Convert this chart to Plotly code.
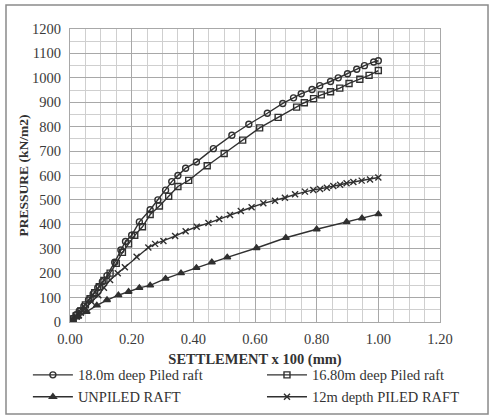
import plotly.graph_objects as go

# 18.0m deep Piled raft
x_18 = [0, 0.01, 0.02, 0.03, 0.045, 0.06, 0.075, 0.09, 0.105, 0.12, 0.145, 0.165, 0.18, 0.20, 0.225, 0.26,
        0.285, 0.31, 0.33, 0.35, 0.375, 0.41, 0.465, 0.525, 0.58, 0.64, 0.69, 0.725, 0.75, 0.785, 0.81,
        0.845, 0.87, 0.9, 0.93, 0.955, 0.985, 1.0]
p_18 = [0, 15, 30, 45, 65, 90, 115, 140, 165, 190, 245, 295, 330, 355, 410, 460,
        500, 540, 575, 600, 630, 655, 710, 765, 810, 855, 895, 918, 935, 952, 968,
        985, 1000, 1017, 1035, 1050, 1065, 1070]

# 16.80m deep Piled raft
x_168 = [0, 0.01, 0.02, 0.035, 0.05, 0.065, 0.08, 0.095, 0.11, 0.13, 0.15, 0.17, 0.19, 0.21, 0.235, 0.26,
         0.29, 0.32, 0.35, 0.385, 0.445, 0.5, 0.56, 0.615, 0.675, 0.735, 0.76, 0.79, 0.815, 0.845, 0.875,
         0.905, 0.94, 0.97, 1.0]
p_168 = [0, 12, 25, 45, 70, 95, 120, 145, 170, 200, 240, 285, 320, 355, 390, 440,
         475, 515, 555, 580, 640, 690, 745, 795, 838, 880, 898, 915, 930, 943, 958,
         977, 994, 1010, 1030]

# UNPILED RAFT
x_un = [0, 0.01, 0.027, 0.054, 0.087, 0.12, 0.157, 0.19, 0.225, 0.26, 0.31, 0.36, 0.41, 0.46, 0.51,
        0.605, 0.70, 0.80, 0.897, 0.947, 1.0]
p_un = [0, 8, 22, 42, 68, 90, 110, 124, 140, 150, 178, 200, 222, 245, 265,
        303, 345, 380, 410, 425, 442]

# 12m depth PILED RAFT
x_12 = [0, 0.01, 0.022, 0.035, 0.049, 0.07, 0.092, 0.11, 0.13, 0.155, 0.178, 0.216, 0.254, 0.276, 0.303,
        0.341, 0.375, 0.411, 0.449, 0.484, 0.519, 0.554, 0.589, 0.627, 0.665, 0.697, 0.73, 0.762, 0.789,
        0.811, 0.833, 0.854, 0.876, 0.897, 0.919, 0.946, 0.973, 1.0]
p_12 = [0, 10, 22, 38, 56, 83, 110, 140, 172, 200, 224, 267, 305, 320, 332,
        352, 372, 390, 405, 422, 438, 455, 470, 486, 497, 509, 523, 534, 541,
        545, 550, 557, 562, 568, 573, 579, 584, 592]

names = ["18.0m deep Piled raft", "16.80m deep Piled raft", "UNPILED RAFT", "12m depth PILED RAFT"]
xs = [x_18, x_168, x_un, x_12]
ps = [p_18, p_168, p_un, p_12]
symbols = ["circle-open", "square-open", "triangle-up", "x-thin-open"]
legend_ids = ["legend", "legend2", "legend", "legend2"]

fig = go.Figure()
LC = "#303030"
for n, xv, pv, s, lg in zip(names, xs, ps, symbols, legend_ids):
    fig.add_trace(go.Scatter(
        x=xv, y=pv, name=n, mode="lines+markers", legend=lg,
        line=dict(color=LC, width=1.4),
        marker=dict(symbol=s, size=6, color=LC, line=dict(color=LC, width=1.4)),
    ))

font_family = "Liberation Serif"
leg_common = dict(orientation="v", xanchor="left", yanchor="bottom", itemwidth=40,
                  font=dict(family=font_family, size=14.5, color="#333333"),
                  bgcolor="rgba(0,0,0,0)", tracegroupgap=0, borderwidth=0)
# paper area: x 10..481 (471 px), y 29..416 (387 px)
fig.update_layout(
    width=491, height=416,
    margin=dict(l=10, r=10, t=29, b=0),
    paper_bgcolor="white", plot_bgcolor="white",
    font=dict(family=font_family, color="#333333", size=14),
    showlegend=True,
    legend=dict(x=0.038, y=0.008, **leg_common),
    legend2=dict(x=0.535, y=0.008, **leg_common),
    xaxis=dict(domain=[60 / 471, 430 / 471], range=[0, 1.2], dtick=0.2, tick0=0, tickformat=".2f",
               showgrid=True, gridcolor="#a8a8a8", gridwidth=1,
               minor=dict(dtick=0.05, showgrid=True, gridcolor="#cfcfcf", gridwidth=1),
               showline=True, linecolor="#a8a8a8", mirror=True, zeroline=False,
               ticks="", ticklabelstandoff=4, tickfont=dict(size=14.5, color="#3a3a3a"),
               automargin=False,
               title=dict(text="<b>SETTLEMENT x 100 (mm)</b>", font=dict(size=14.5, color="#333333"), standoff=7)),
    yaxis=dict(domain=[94 / 387, 1], range=[0, 1200], dtick=100, tick0=0,
               showgrid=True, gridcolor="#a8a8a8", gridwidth=1,
               minor=dict(dtick=50, showgrid=True, gridcolor="#cfcfcf", gridwidth=1),
               showline=True, linecolor="#a8a8a8", mirror=True, zeroline=False,
               ticks="", ticklabelstandoff=5, tickfont=dict(size=14.5, color="#3a3a3a"),
               automargin=False,
               title=dict(text="<b>PRESSURE (kN/m2)</b>", font=dict(size=13.5, color="#333333"), standoff=0)),
    shapes=[dict(type="rect", xref="paper", yref="paper",
                 x0=-0.0085, x1=1.0149, y0=0.0052, y1=1.062,
                 line=dict(color="#8a8a8a", width=1.5), fillcolor="rgba(0,0,0,0)", layer="below")],
)

fig.write_html("out.html")
